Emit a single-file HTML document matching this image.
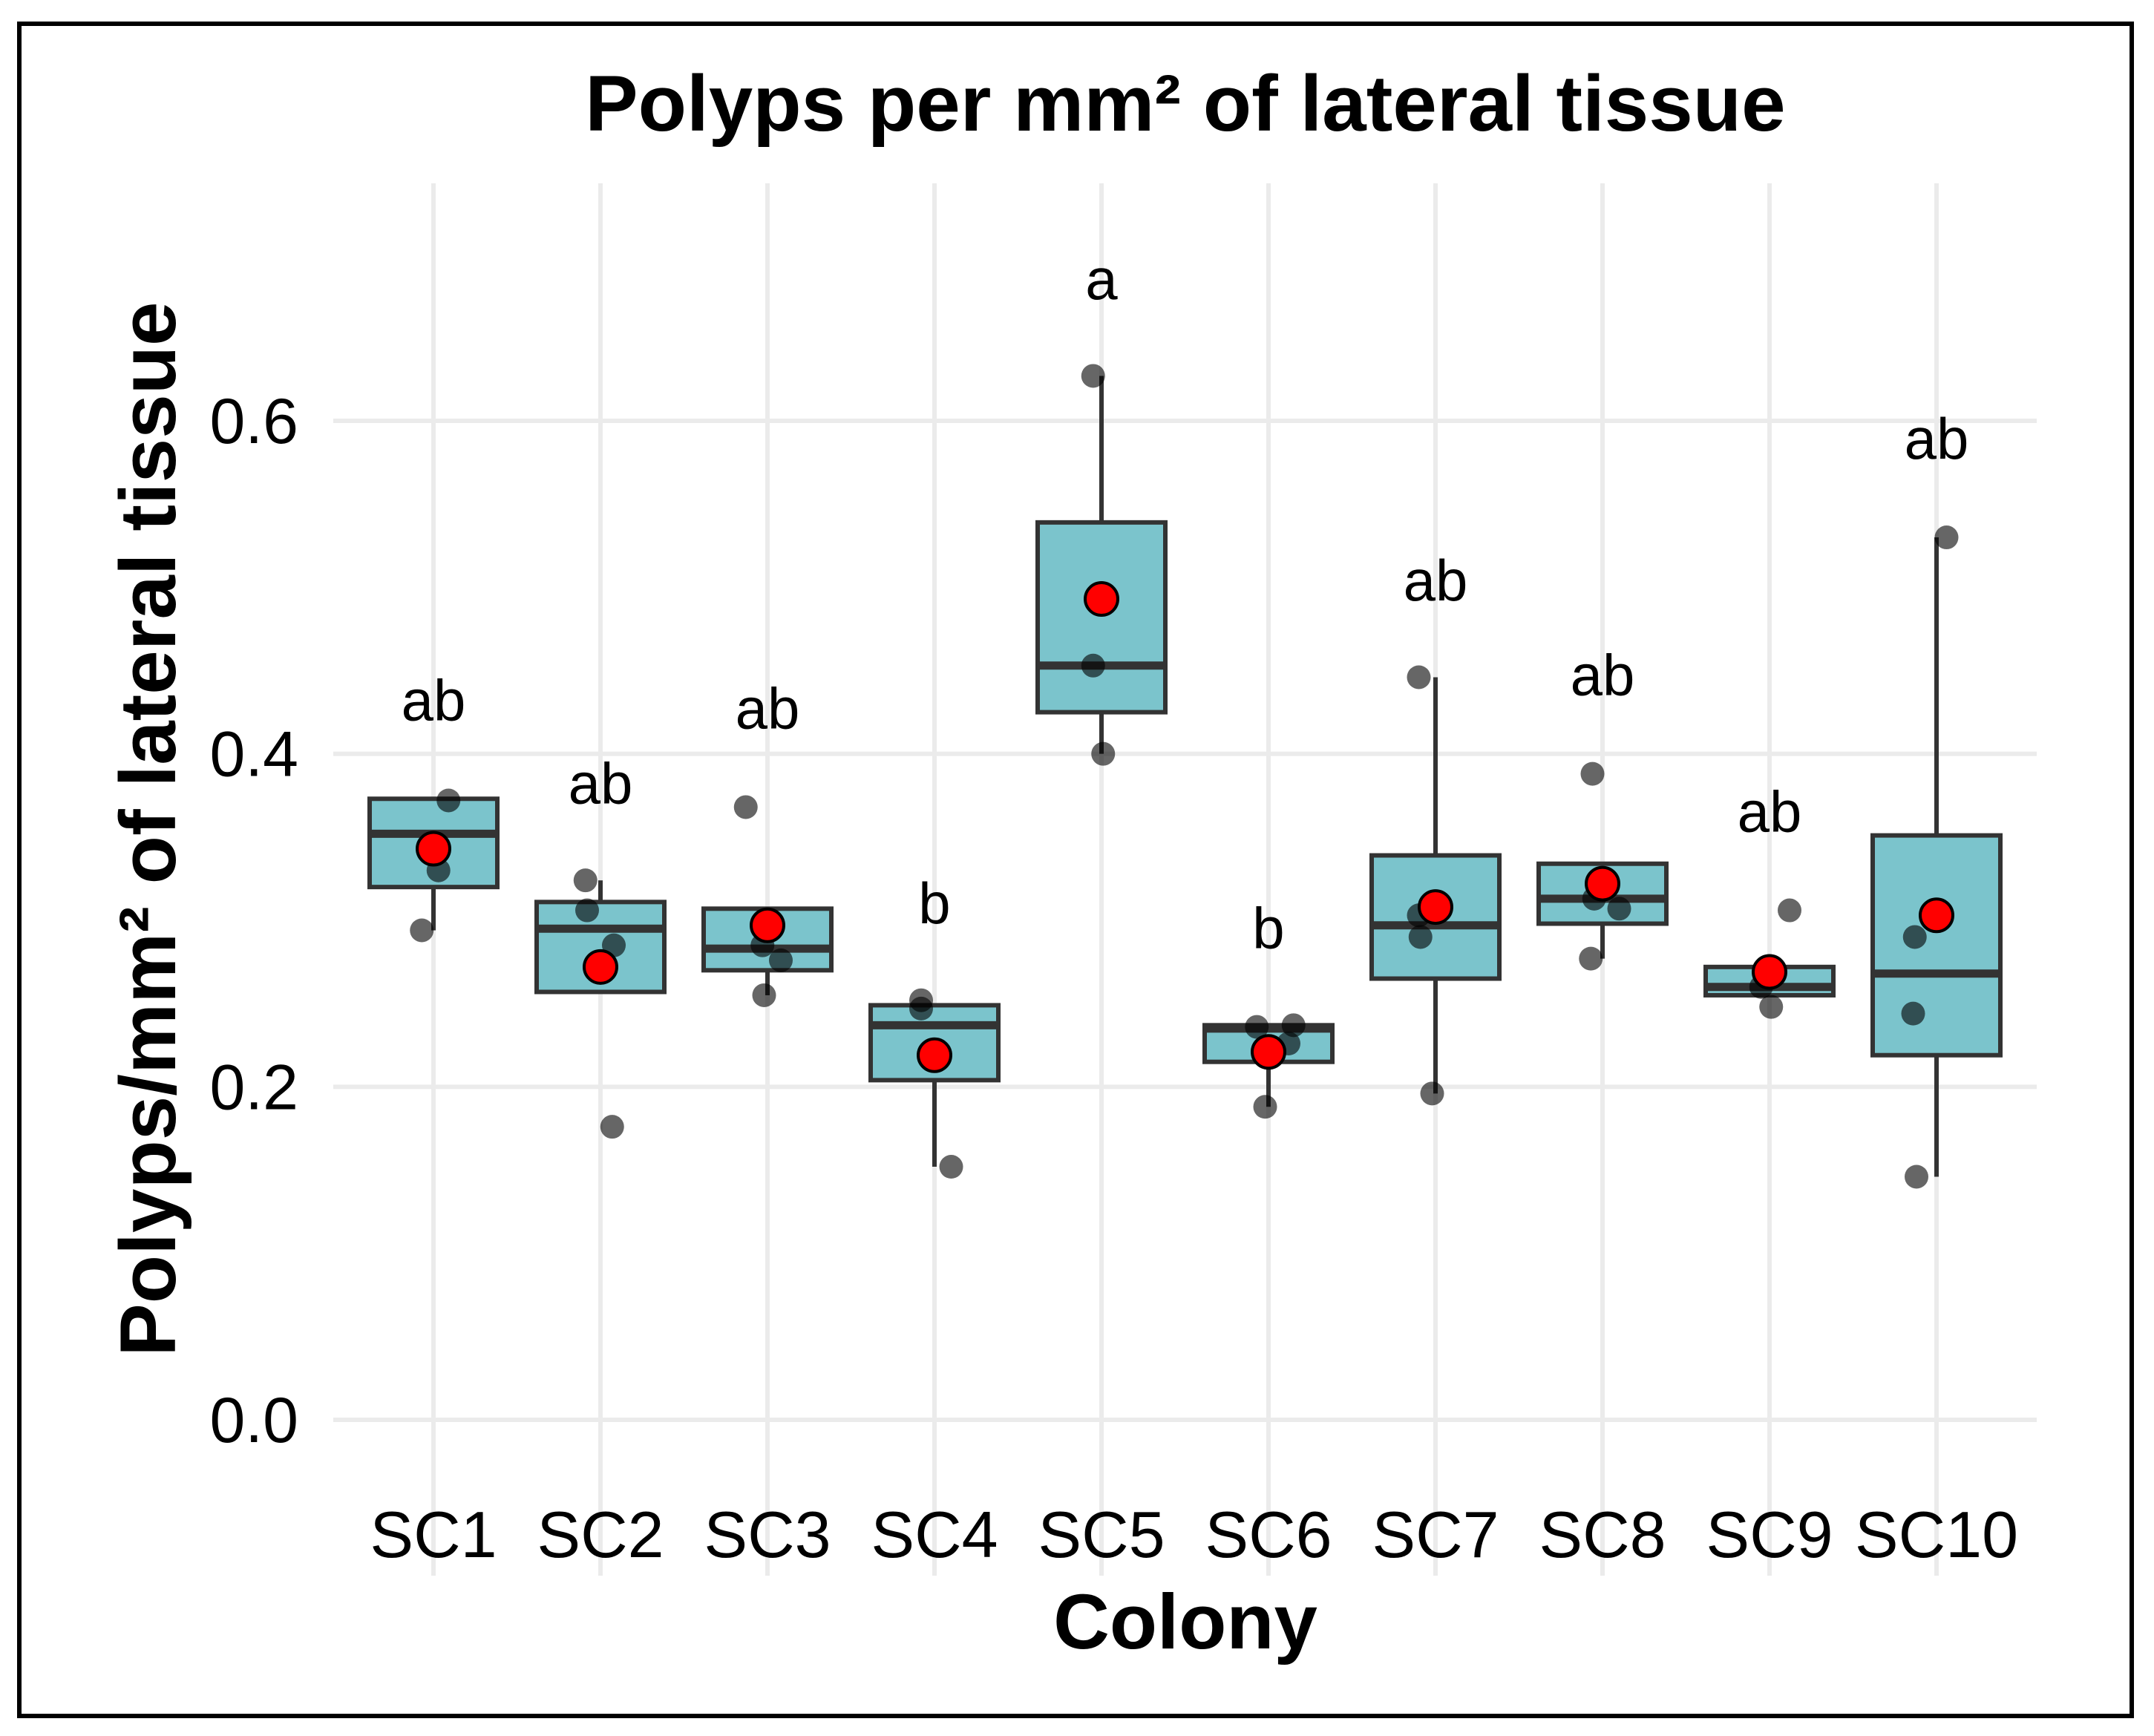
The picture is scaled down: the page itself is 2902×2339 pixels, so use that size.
<!DOCTYPE html>
<html><head><meta charset="utf-8">
<style>
html,body{margin:0;padding:0;background:#fff;}
svg{display:block;font-family:"Liberation Sans",sans-serif;}
</style></head>
<body>
<svg id="chart" width="2902" height="2339" viewBox="0 0 2902 2339" xmlns="http://www.w3.org/2000/svg">
<rect x="0" y="0" width="2902" height="2339" fill="#fff"/>
<rect x="26" y="32" width="2846" height="2280" fill="none" stroke="#000" stroke-width="6"/>
<text x="1597" y="176" font-size="107" font-weight="bold" text-anchor="middle">Polyps per mm² of lateral tissue</text>
<text x="1597" y="2221" font-size="105" font-weight="bold" text-anchor="middle">Colony</text>
<text transform="translate(236,1117) rotate(-90)" font-size="107" font-weight="bold" text-anchor="middle">Polyps/mm² of lateral tissue</text>
<g id="grid"></g><g id="marks"></g><g id="ticks"></g>
</svg>
<script>
const categories=["SC1","SC2","SC3","SC4","SC5","SC6","SC7","SC8","SC9","SC10"];
const whiskerLow=[0.294,0.257,0.255,0.152,0.400,0.188,0.196,0.277,0.255,0.146];
const q1=[0.320,0.257,0.270,0.204,0.425,0.215,0.265,0.298,0.255,0.219];
const median=[0.352,0.295,0.283,0.237,0.453,0.235,0.297,0.313,0.260,0.268];
const q3=[0.373,0.311,0.307,0.249,0.539,0.237,0.339,0.334,0.272,0.351];
const whiskerHigh=[0.373,0.324,0.307,0.249,0.627,0.237,0.446,0.334,0.272,0.530];
const means=[0.343,0.272,0.297,0.219,0.493,0.221,0.308,0.322,0.269,0.303];
const points=[[0.294,0.330,0.372],[0.324,0.306,0.285,0.176],[0.368,0.285,0.276,0.255],[0.252,0.247,0.152],[0.627,0.453,0.400],[0.237,0.236,0.226,0.188],[0.446,0.303,0.290,0.196],[0.388,0.313,0.307,0.277],[0.306,0.260,0.248],[0.530,0.290,0.244,0.146]];
const jitter=[[-0.07,0.03,0.09],[-0.09,-0.08,0.08,0.07],[-0.13,-0.03,0.08,-0.02],[-0.08,-0.08,0.1],[-0.05,-0.05,0.01],[0.15,-0.07,0.12,-0.02],[-0.1,-0.1,-0.09,-0.02],[-0.06,-0.05,0.1,-0.07],[0.12,-0.05,0.01],[0.06,-0.13,-0.14,-0.12]];
const letters=["ab","ab","ab","b","a","b","ab","ab","ab","ab"];
const letterY=[0.430,0.380,0.425,0.308,0.683,0.293,0.502,0.445,0.363,0.587];
const yTicks=[0,0.2,0.4,0.6];
const yTickLabels=["0.0","0.2","0.4","0.6"];

const NS="http://www.w3.org/2000/svg";
const X0=584,DX=225,Y0=1913,YS=2243.3;
const xs=i=>X0+i*DX, ys=v=>Y0-v*YS;
function mk(tag,attrs,parent){const e=document.createElementNS(NS,tag);for(const k in attrs)e.setAttribute(k,attrs[k]);parent.appendChild(e);return e;}
const grid=document.getElementById('grid'),marks=document.getElementById('marks'),ticks=document.getElementById('ticks');
yTicks.forEach((t,i)=>{
  const l=mk('line',{x1:449,x2:2744,y1:ys(t),y2:ys(t),stroke:'#ebebeb','stroke-width':6},grid);
  
  
  const tx=mk('text',{x:402,y:ys(t)+30,'font-size':86,'text-anchor':'end'},ticks);
  tx.textContent=yTickLabels[i];
  
  
});
categories.forEach((c,i)=>{
  const l=mk('line',{x1:xs(i),x2:xs(i),y1:247,y2:2123,stroke:'#ebebeb','stroke-width':6},grid);
  
  
  const tx=mk('text',{x:xs(i),y:2098,'font-size':88,'text-anchor':'middle'},ticks);
  tx.textContent=c;
  
  
});
categories.forEach((c,i)=>{
  const g=mk('g',{},marks);
  
  
  const x=xs(i),hw=86;
  mk('line',{x1:x,x2:x,y1:ys(whiskerHigh[i]),y2:ys(q3[i]),stroke:'#333','stroke-width':6},g);
  mk('line',{x1:x,x2:x,y1:ys(q1[i]),y2:ys(whiskerLow[i]),stroke:'#333','stroke-width':6},g);
  mk('rect',{x:x-hw,y:ys(q3[i]),width:2*hw,height:ys(q1[i])-ys(q3[i]),fill:'#7bc4cc',stroke:'#333','stroke-width':6},g);
  mk('line',{x1:x-hw,x2:x+hw,y1:ys(median[i]),y2:ys(median[i]),stroke:'#333','stroke-width':11},g);
  points[i].forEach((p,j)=>{
    const d=mk('circle',{cx:x+jitter[i][j]*DX,cy:ys(p),r:16,fill:'rgba(0,0,0,0.6)'},g);
    
    
  });
  const m=mk('circle',{cx:x,cy:ys(means[i]),r:22,fill:'#ff0000',stroke:'#000','stroke-width':4},g);
  
  
  const t=mk('text',{x:x,y:ys(letterY[i])+22,'font-size':78,'text-anchor':'middle'},g);
  t.textContent=letters[i];
  
  
});
</script>
</body></html>
